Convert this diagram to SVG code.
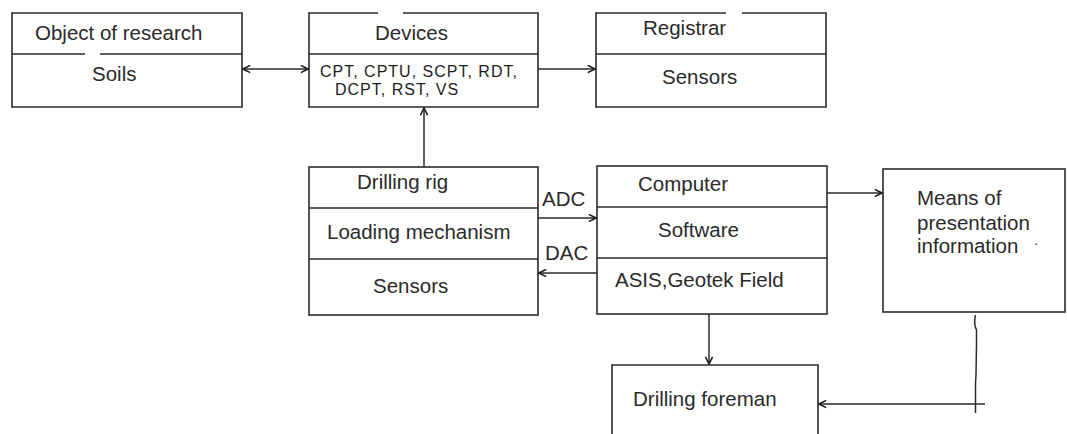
<svg xmlns="http://www.w3.org/2000/svg" width="1067" height="434" viewBox="0 0 1067 434">
  <style>
    .box { fill: none; stroke: #2b2b2b; stroke-width: 1.6; }
    .line { fill: none; stroke: #2b2b2b; stroke-width: 1.5; }
    .t { font-family: "Liberation Sans", Arial, sans-serif; font-size: 20.5px; fill: #2a2a2a; }
    .code { font-family: "Liberation Sans", Arial, sans-serif; font-size: 16px; letter-spacing: 1px; fill: #1e1e1e; }
  </style>
  <defs>
    <marker id="arrow" viewBox="0 0 10 10" refX="9" refY="5" markerWidth="9" markerHeight="9" markerUnits="userSpaceOnUse" orient="auto-start-reverse">
      <path d="M1,1 L9,5 L1,9" fill="none" stroke="#1e1e1e" stroke-width="1.8"/>
    </marker>
  </defs>
  <rect width="1067" height="434" fill="#ffffff"/>

  <!-- Object of research -->
  <g id="object">
    <path class="box" d="M12,13 H242 V107 H12 Z"/>
    <path class="box" d="M12,54 H85 M100,54 H242"/>
    <text class="t" x="35" y="40">Object of research</text>
    <text class="t" x="92" y="81">Soils</text>
  </g>

  <!-- Devices -->
  <g id="devices">
    <path class="box" d="M378,13 H309 V107 H538 V13 H403"/>
    <path class="box" d="M309,54 H538"/>
    <text class="t" x="375" y="40">Devices</text>
    <text class="code" x="320" y="77">CPT, CPTU, SCPT, RDT,</text>
    <text class="code" x="335" y="95">DCPT, RST, VS</text>
  </g>

  <!-- Registrar -->
  <g id="registrar">
    <path class="box" d="M726,13 H596 V107 H826 V13 H742"/>
    <path class="box" d="M596,54 H826"/>
    <text class="t" x="643" y="35">Registrar</text>
    <text class="t" x="662" y="84">Sensors</text>
  </g>

  <!-- Drilling rig -->
  <g id="drilling-rig">
    <rect class="box" x="309" y="167" width="229" height="148"/>
    <path class="box" d="M309,208 H538 M309,259 H538"/>
    <text class="t" x="357" y="189">Drilling rig</text>
    <text class="t" x="327" y="239">Loading mechanism</text>
    <text class="t" x="373" y="293">Sensors</text>
  </g>

  <!-- Computer -->
  <g id="computer">
    <rect class="box" x="597" y="166" width="230" height="148"/>
    <path class="box" d="M597,207 H827 M597,258 H827"/>
    <text class="t" x="638" y="191">Computer</text>
    <text class="t" x="658" y="237">Software</text>
    <text class="t" x="615" y="287">ASIS,Geotek Field</text>
  </g>

  <!-- Means of presentation information -->
  <g id="means">
    <rect class="box" x="883" y="169" width="182" height="143"/>
    <text class="t" x="917" y="205">Means of</text>
    <text class="t" x="917" y="230">presentation</text>
    <text class="t" x="917" y="253">information</text>
    <rect x="1035.5" y="243.5" width="1.5" height="1.5" fill="#444"/>
  </g>

  <!-- Drilling foreman -->
  <g id="foreman">
    <path class="box" d="M612,436 V365 H818 V436"/>
    <text class="t" x="633" y="406">Drilling foreman</text>
  </g>

  <!-- Connectors -->
  <g id="connectors">
    <line class="line" x1="243" y1="69" x2="308" y2="69" marker-start="url(#arrow)" marker-end="url(#arrow)"/>
    <line class="line" x1="538" y1="69" x2="595" y2="69" marker-end="url(#arrow)"/>
    <line class="line" x1="424" y1="167" x2="424" y2="108" marker-end="url(#arrow)"/>
    <line class="line" x1="538" y1="218" x2="596" y2="218" marker-end="url(#arrow)"/>
    <line class="line" x1="597" y1="273" x2="539" y2="273" marker-end="url(#arrow)"/>
    <line class="line" x1="827" y1="193" x2="882" y2="193" marker-end="url(#arrow)"/>
    <line class="line" x1="709" y1="314" x2="709" y2="364" marker-end="url(#arrow)"/>
    <path class="line" d="M975.5,315 Q974,320 975,326 L976.5,330 L976.5,345 L976,375 L975.5,383 L975.5,413"/>
    <line class="line" x1="985" y1="404" x2="819" y2="404" marker-end="url(#arrow)"/>
  </g>
  <text class="t" x="542" y="206">ADC</text>
  <text class="t" x="545" y="260">DAC</text>
</svg>
